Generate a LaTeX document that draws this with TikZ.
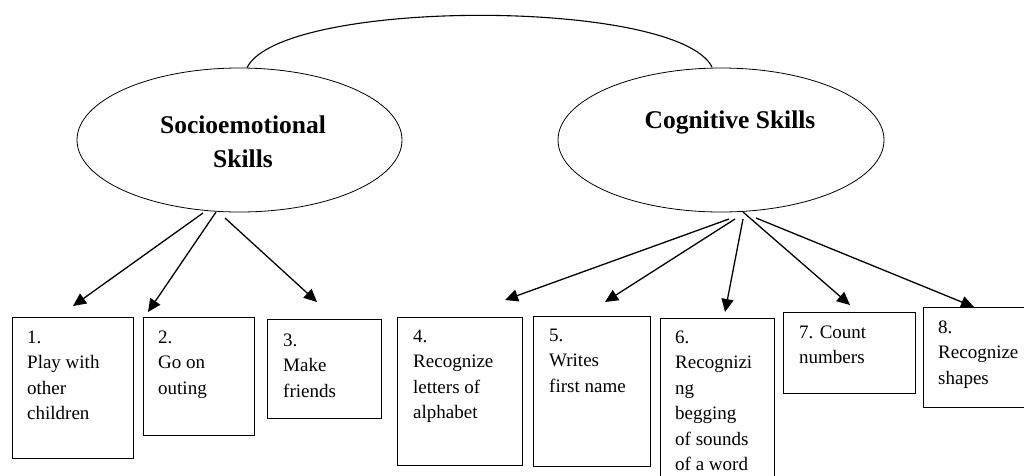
\documentclass[tikz,border=0pt]{standalone}
\usepackage{fontspec}
\setmainfont{Liberation Serif}
\usetikzlibrary{shapes.geometric,arrows.meta}
\newcommand{\itemlines}[1]{\begin{tabular}[t]{@{}l@{}}#1\end{tabular}}
\begin{document}
\begin{tikzpicture}[x=1pt,y=-1pt,
  skill/.style={ellipse,draw,line width=0.8pt,inner sep=0pt},
  title/.style={font=\fontsize{25.5}{33}\selectfont\bfseries,align=center,inner sep=0pt},
  itembox/.style={draw,line width=0.9pt,anchor=north west,inner sep=0pt},
  itemtext/.style={font=\fontsize{19}{25.5}\selectfont,anchor=base west,inner sep=0pt},
  arr/.style={line width=1.3pt,-{Triangle[length=13pt,width=12pt]}},
  link/.style={line width=1.1pt}]
\useasboundingbox (0,0) rectangle (1024,475);
% ellipses
\node[skill,minimum width=325pt,minimum height=144pt] (soc) at (239.5,140) {};
\node[skill,minimum width=326pt,minimum height=144pt] (cog) at (721,140) {};
\node[title,anchor=base] (soct) at (243,133) {Socioemotional};
\node[title,anchor=base] (soct2) at (243,167) {Skills};
\node[title,anchor=base] (cogt) at (730,128) {Cognitive Skills};
% top link
\draw[link] (soc.north) ++(7.5,0) coordinate (la) .. controls (282,-2) and (677,-2) .. (712,67) coordinate (lb);
% boxes
\node[itembox,minimum width=121pt,minimum height=141pt] (b1) at (12,317) {};
\node[itembox,minimum width=111pt,minimum height=118pt] (b2) at (143,317) {};
\node[itembox,minimum width=114pt,minimum height=99pt] (b3) at (267,319) {};
\node[itembox,minimum width=125pt,minimum height=148pt] (b4) at (397,317) {};
\node[itembox,minimum width=117pt,minimum height=150pt] (b5) at (533,316) {};
\node[itembox,minimum width=114pt,minimum height=180pt] (b6) at (660,318) {};
\node[itembox,minimum width=132pt,minimum height=81pt] (b7) at (783,312) {};
\node[itembox,minimum width=110pt,minimum height=100pt] (b8) at (923,307) {};
% texts
\node[itemtext] (t1) at (27,343) {\itemlines{1.\\Play with\\other\\children}};
\node[itemtext] (t2) at (158,343) {\itemlines{2.\\Go on\\outing}};
\node[itemtext] (t3) at (283,346) {\itemlines{3.\\Make\\friends}};
\node[itemtext] (t4) at (413,342) {\itemlines{4.\\Recognize\\letters of\\alphabet}};
\node[itemtext] (t5) at (549,341) {\itemlines{5.\\Writes\\first name}};
\node[itemtext] (t6) at (675,343) {\itemlines{6.\\Recognizi\\ng\\begging\\of sounds\\of a word}};
\node[itemtext] (t7) at (799,338) {\itemlines{7. Count\\numbers}};
\node[itemtext] (t8) at (938,333) {\itemlines{8.\\Recognize\\shapes}};
% arrow coordinates
\coordinate (s1) at (203,213);
\coordinate (s2) at (216,212);
\coordinate (s3) at (225,218);
\coordinate (s4) at (729,219);
\coordinate (s5) at (735,219);
\coordinate (s6) at (743,219);
\coordinate (s7) at (743,212);
\coordinate (s8) at (756,218);
\coordinate (e1) at (73,306);
\coordinate (e2) at (148,312);
\coordinate (e3) at (317,302);
\coordinate (e4) at (505,300);
\coordinate (e5) at (605,302);
\coordinate (e6) at (725,312);
\coordinate (e7) at (850,305);
\coordinate (e8) at (974,307);
\foreach \i in {1,...,8} {\draw[arr] (s\i) -- (e\i);}
\end{tikzpicture}
\end{document}
